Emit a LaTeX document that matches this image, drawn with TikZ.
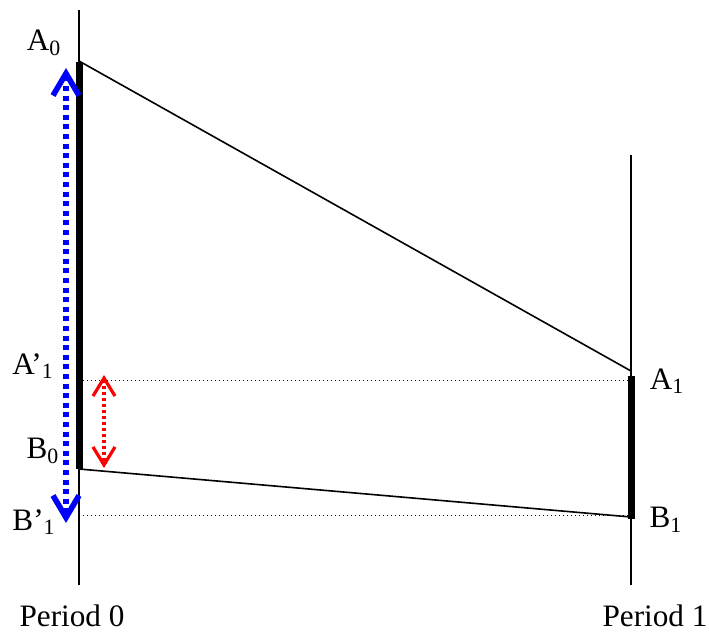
\documentclass[tikz,border=0pt]{standalone}
\usepackage{fontspec}
\setmainfont{Liberation Serif}
\usetikzlibrary{arrows.meta}

\begin{document}
\begin{tikzpicture}[
  x=0.5pt, y=-0.5pt,
  font=\fontsize{15.6}{18}\selectfont,
  axis/.style={line width=0.9pt},
  holding/.style={line width=3.5pt},
  link/.style={line width=0.8pt},
  guide/.style={line width=0.5pt, dash pattern=on 0.5pt off 1.5pt},
  bluespan/.style={{Straight Barb[length=11pt, width=13pt]}-{Straight Barb[length=11pt, width=13pt]},
    line width=2.8pt, draw=blue, dash pattern=on 2.5pt off 2.3pt},
  redspan/.style={{Straight Barb[length=9pt, width=11pt]}-{Straight Barb[length=9pt, width=11pt]},
    line width=1.6pt, draw=red, dash pattern=on 1.5pt off 1.5pt},
  tag/.style={inner sep=0pt}
]
\useasboundingbox (0,0) rectangle (709,632);
% axes and points
\coordinate (top0) at (79,10);
\coordinate (bot0) at (79,585);
\coordinate (top1) at (631,155);
\coordinate (bot1) at (631,585);
\coordinate (A0) at (79,61);
\coordinate (B0) at (79,469);
\coordinate (A1) at (631,371);
\coordinate (B1) at (631,517);
\coordinate (A1p) at (79,380);
\coordinate (B1p) at (79,515);
\coordinate (A1q) at (631,380);
\coordinate (B1q) at (631,515);
\draw[axis] (top0) -- (bot0);
\draw[axis] (top1) -- (bot1);
\draw[holding] (79,62) -- (B0);
\draw[holding] (631,376) -- (631,519);
\draw[link] (A0) -- (A1);
\draw[link] (B0) -- (B1);
\draw[guide] (A1p) -- (A1q);
\draw[guide] (B1p) -- (B1q);
% arrows
\coordinate (bluetop) at (66,68);
\coordinate (bluebot) at (66,523);
\coordinate (redtop) at (104,375);
\coordinate (redbot) at (104,468);
\draw[bluespan] (bluetop) -- (bluebot);
\draw[redspan] (redtop) -- (redbot);
% labels
\node[tag] (lA0) at (44,43) {A\textsubscript{0}};
\node[tag] (lA1p) at (33,366) {A’\textsubscript{1}};
\node[tag] (lB0) at (43,451) {B\textsubscript{0}};
\node[tag] (lB1p) at (34,522) {B’\textsubscript{1}};
\node[tag] (lA1) at (667,381) {A\textsubscript{1}};
\node[tag] (lB1) at (666,520) {B\textsubscript{1}};
\node[tag] (p0) at (72,616) {Period 0};
\node[tag] (p1) at (655,616) {Period 1};
\end{tikzpicture}
\end{document}
